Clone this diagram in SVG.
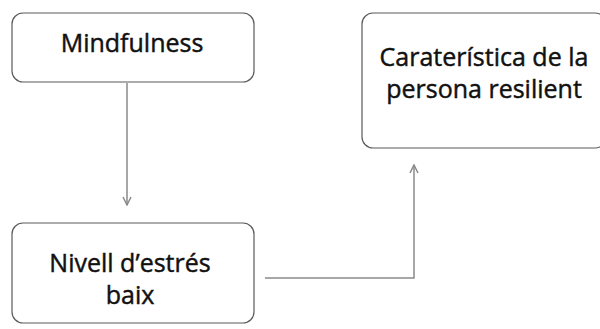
<svg xmlns="http://www.w3.org/2000/svg" width="600" height="329" viewBox="0 0 600 329">
  <defs>
    <style>
      .box { fill: #ffffff; stroke: #5a5a5a; stroke-width: 1.2; }
      .label { font-family: "Open Sans", "Noto Sans", sans-serif; font-size: 25px; fill: #111111; stroke: #111111; stroke-width: 0.45; text-anchor: middle; }
      .link { fill: none; stroke: #8a8a8a; stroke-width: 1.5; }
    </style>
    <marker id="chevron" viewBox="0 0 10 10" refX="9" refY="5" markerWidth="10" markerHeight="10" markerUnits="userSpaceOnUse" orient="auto">
      <path d="M1,1 L9,5 L1,9" fill="none" stroke="#8a8a8a" stroke-width="1.5"/>
    </marker>
  </defs>
  <rect width="600" height="329" fill="#ffffff"/>

  <g id="mindfulness">
    <rect class="box" x="12" y="13" width="242" height="69" rx="11"/>
    <text class="label" x="132" y="52">Mindfulness</text>
  </g>

  <g id="resilient-person">
    <rect class="box" x="362" y="13" width="244" height="135" rx="11"/>
    <text class="label" x="484" y="66">Caraterística de la</text>
    <text class="label" x="484" y="98">persona resilient</text>
  </g>

  <g id="low-stress">
    <rect class="box" x="12" y="223" width="242" height="100" rx="11"/>
    <text class="label" x="130" y="272">Nivell d’estrés</text>
    <text class="label" x="130" y="304">baix</text>
  </g>

  <g id="connectors">
    <path class="link" d="M127,83 V205" marker-end="url(#chevron)"/>
    <path class="link" d="M265,278 H414 V165" marker-end="url(#chevron)"/>
  </g>
</svg>
